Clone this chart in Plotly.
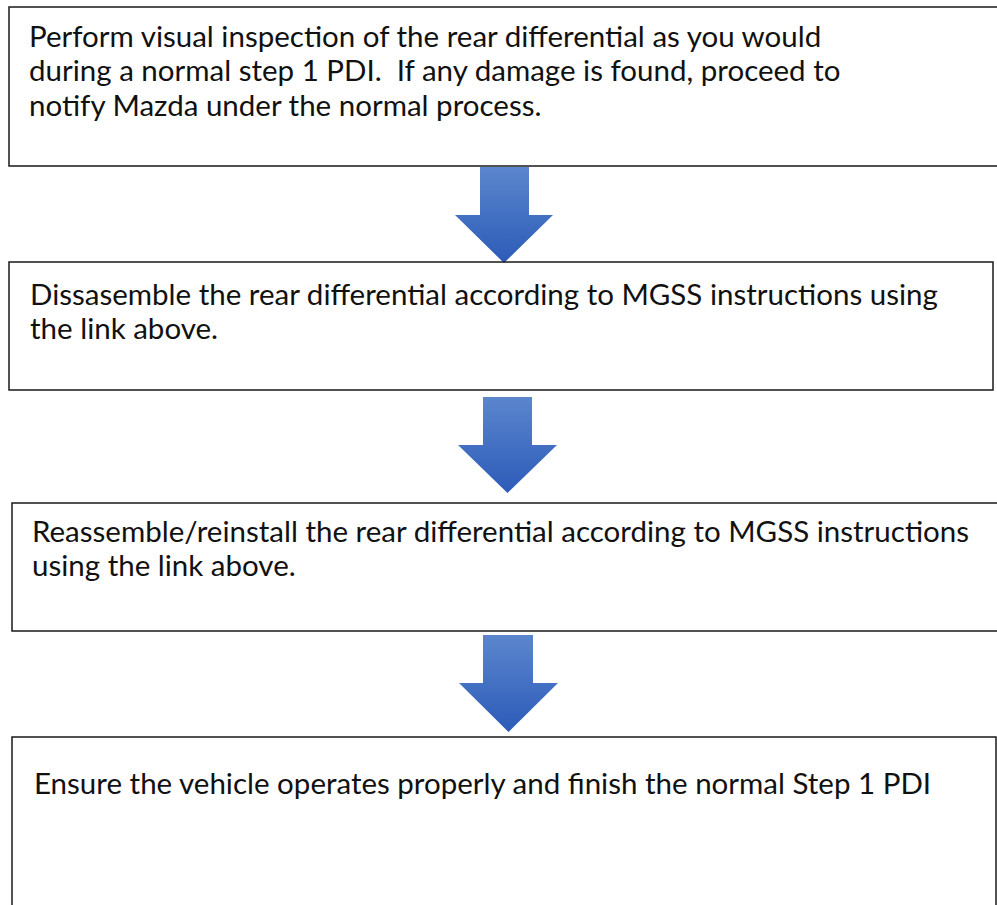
import plotly.graph_objects as go

# ---- content -------------------------------------------------------------
step_lines = [
    ["Perform visual inspection of the rear differential as you would",
     "during a normal step 1 PDI.  If any damage is found, proceed to",
     "notify Mazda under the normal process."],
    ["Dissasemble the rear differential according to MGSS instructions using",
     "the link above."],
    ["Reassemble/reinstall the rear differential according to MGSS instructions",
     "using the link above."],
    ["Ensure the vehicle operates properly and finish the normal Step 1 PDI"],
]

# box geometry (x0, y0, x1, y1) in page pixels
box_x0 = [9, 9, 12, 12]
box_y0 = [7, 262, 503, 737]
box_x1 = [1003, 993, 1003, 996]
box_y1 = [166, 390, 631, 930]

# text placement
text_x = [27, 28, 30, 32]
text_first_y = [35, 293, 530, 782]
line_gap = 34.5

# arrow geometry
arr_shaft_l = [480, 483, 483]
arr_shaft_r = [529, 532, 533]
arr_head_l = [455, 458, 459]
arr_head_r = [553, 557, 558]
arr_top = [167, 397, 635]
arr_neck = [215, 445, 683]
arr_tip = [263, 493, 732]

W, H = 997, 905
FONT = "Lato"

fig = go.Figure()

# arrows
for i in range(len(arr_top)):
    cx = (arr_head_l[i] + arr_head_r[i]) / 2
    xs = [arr_shaft_l[i], arr_shaft_r[i], arr_shaft_r[i], arr_head_r[i], cx,
          arr_head_l[i], arr_shaft_l[i], arr_shaft_l[i]]
    ys = [arr_top[i], arr_top[i], arr_neck[i], arr_neck[i], arr_tip[i],
          arr_neck[i], arr_neck[i], arr_top[i]]
    fig.add_trace(go.Scatter(
        x=xs, y=ys, mode="lines", fill="toself",
        line=dict(width=0, color="rgba(0,0,0,0)"),
        fillgradient=dict(type="vertical", start=arr_top[i], stop=arr_tip[i],
                          colorscale=[[0, "#5B86CD"], [1, "#2C5BB8"]]),
        hoverinfo="skip", showlegend=False))

# boxes
for i in range(len(box_x0)):
    fig.add_shape(type="rect", xref="x", yref="y",
                  x0=box_x0[i], y0=box_y0[i], x1=box_x1[i], y1=box_y1[i],
                  line=dict(color="#1a1a1a", width=1.5),
                  fillcolor="rgba(0,0,0,0)", layer="above")

# texts
for i, lines in enumerate(step_lines):
    for j, t in enumerate(lines):
        fig.add_annotation(x=text_x[i], y=text_first_y[i] + j * line_gap,
                           xref="x", yref="y", text=t, showarrow=False,
                           xanchor="left", yanchor="middle", align="left",
                           font=dict(family=FONT, size=29.5, color="#111111"))

fig.update_layout(
    width=W, height=H, margin=dict(l=0, r=0, t=0, b=0),
    paper_bgcolor="white", plot_bgcolor="white",
    xaxis=dict(range=[0, W], visible=False, fixedrange=True),
    yaxis=dict(range=[H, 0], visible=False, fixedrange=True),
)

fig.write_html("out.html", config={"displayModeBar": False},
               post_script="document.body.style.margin='0';")
